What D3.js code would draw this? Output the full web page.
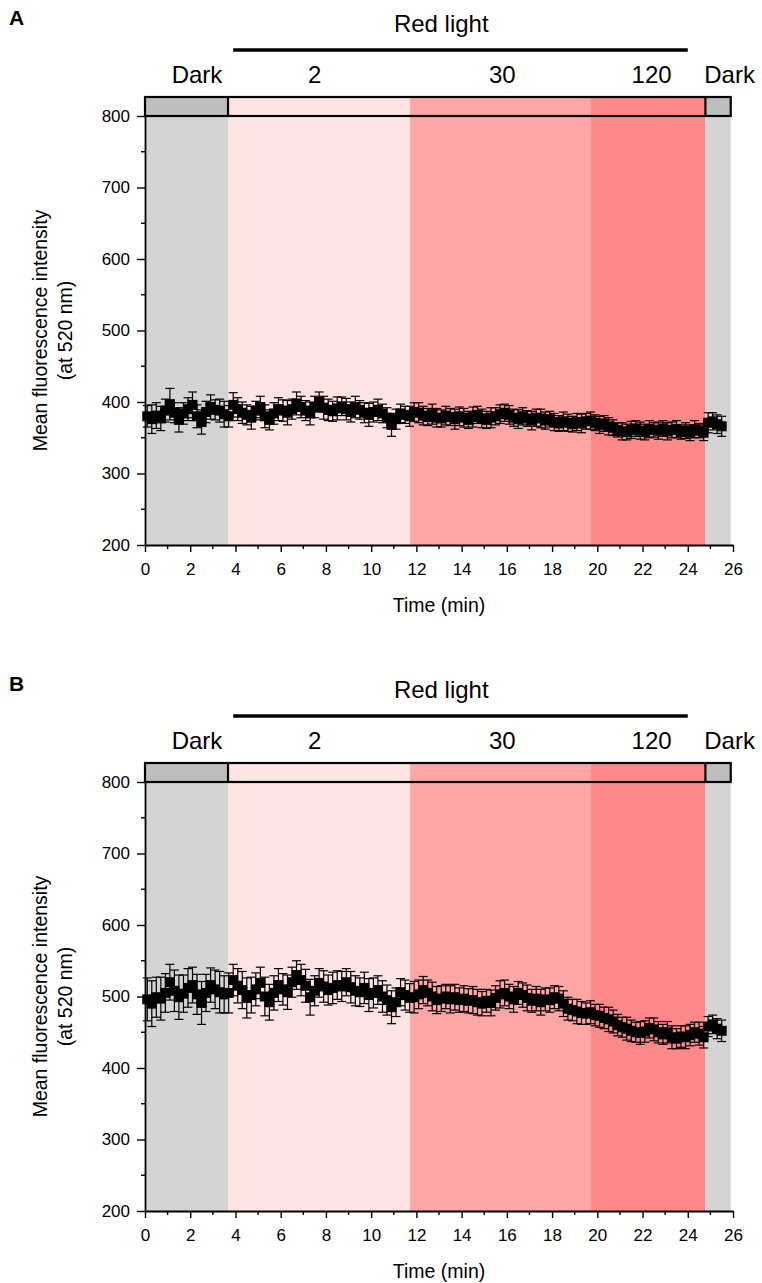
<!DOCTYPE html>
<html><head><meta charset="utf-8">
<script src="https://cdn.jsdelivr.net/npm/d3@7"></script>
<style>body{margin:0;background:#fff}svg{display:block}text{font-family:"Liberation Sans",Arial,sans-serif}</style>
</head><body><svg id="c" width="762" height="1283"></svg>
<script>
const times = [
0.1,0.3,0.5,0.7,0.9,1.1,1.3,1.5,1.7,1.9,
2.1,2.3,2.5,2.7,2.9,3.1,3.3,3.5,3.7,3.9,
4.1,4.3,4.5,4.7,4.9,5.1,5.3,5.5,5.7,5.9,
6.1,6.3,6.5,6.7,6.9,7.1,7.3,7.5,7.7,7.9,
8.1,8.3,8.5,8.7,8.9,9.1,9.3,9.5,9.7,9.9,
10.1,10.3,10.5,10.7,10.9,11.1,11.3,11.5,11.7,11.9,
12.1,12.3,12.5,12.7,12.9,13.1,13.3,13.5,13.7,13.9,
14.1,14.3,14.5,14.7,14.9,15.1,15.3,15.5,15.7,15.9,
16.1,16.3,16.5,16.7,16.9,17.1,17.3,17.5,17.7,17.9,
18.1,18.3,18.5,18.7,18.9,19.1,19.3,19.5,19.7,19.9,
20.1,20.3,20.5,20.7,20.9,21.1,21.3,21.5,21.7,21.9,
22.1,22.3,22.5,22.7,22.9,23.1,23.3,23.5,23.7,23.9,
24.1,24.3,24.5,24.7,24.9,25.1,25.3,25.5];

const meanA = [
380,376,381,377,388,397,385,375,384,390,
396,380,372,386,393,389,388,383,380,396,
390,385,382,378,388,393,380,375,384,390,
388,385,390,398,393,388,384,393,400,392,
389,387,391,394,390,386,393,389,385,382,
386,389,384,378,368,376,384,382,380,386,
385,381,379,383,378,377,381,379,376,380,
378,375,379,382,377,375,378,380,383,385,
382,378,376,380,377,374,378,377,374,376,
372,370,373,371,369,372,370,373,374,371,
368,370,366,364,361,359,358,361,363,360,
358,362,361,360,363,359,361,362,358,360,
357,362,360,357,371,373,369,366];
const errA = [
15,20,18,17,16,22,14,17,15,16,
18,16,17,15,17,14,16,18,15,17,
16,15,14,16,13,15,16,14,15,16,
15,17,14,16,15,14,16,15,14,16,
15,14,16,13,15,14,15,13,14,16,
14,15,13,14,16,14,13,12,14,13,
14,13,12,14,13,12,13,12,14,13,
13,12,14,12,13,12,14,12,13,12,
13,12,13,12,11,13,12,13,12,11,
12,11,13,12,11,12,13,11,12,11,
12,11,12,11,10,12,11,12,11,12,
11,12,10,12,11,12,11,12,10,11,
11,12,10,11,14,12,13,14];

const meanB = [
496,490,499,497,505,520,508,499,504,512,
516,503,491,505,516,510,506,503,505,523,
515,509,498,502,510,519,500,492,505,516,
510,506,520,530,523,515,499,508,519,514,
509,512,516,514,520,513,508,506,512,502,
505,509,500,495,485,492,506,502,498,499,
503,509,505,500,495,497,500,496,499,495,
497,494,495,492,490,494,491,498,503,505,
500,496,505,502,498,494,497,492,496,495,
499,497,490,483,481,479,477,476,478,474,
473,470,468,465,460,457,455,452,450,449,
451,456,454,450,447,450,443,441,444,443,
446,450,448,443,458,461,455,452];
const errB = [
30,32,28,30,27,25,29,31,26,27,
25,28,30,26,24,27,29,26,28,22,
24,26,28,25,23,22,27,25,24,23,
22,24,21,20,22,23,25,21,20,22,
21,22,20,21,19,22,21,20,22,23,
21,20,22,21,23,20,19,21,20,22,
20,19,18,20,19,18,17,19,18,17,
18,17,19,18,17,16,18,17,19,18,
17,18,16,17,18,16,17,18,16,17,
16,17,18,16,15,17,16,15,16,15,
16,15,17,16,15,14,16,15,14,16,
15,14,16,15,14,15,16,14,15,16,
15,14,16,15,14,13,14,15];

// light condition phases (min)
const phaseStart = [0, 3.67, 11.72, 19.69, 24.78];
const phaseEnd   = [3.67, 11.72, 19.69, 24.78, 25.9];
const phaseLabels = ["Dark", "2", "30", "120", "Dark"];
const phaseFill = ["#d4d4d4", "#ffe4e4", "#ffa6a6", "#ff8989", "#d4d4d4"];
const phaseBoxFill = ["#bebebe", "#ffe4e4", "#ffa6a6", "#ff8989", "#bebebe"];
const labelPosT = [2.3, 7.5, 15.8, 22.4, 25.85];
const redLightRange = [3.9, 24.0];

const yTicks = [200,300,400,500,600,700,800];
const yMinor = [250,350,450,550,650,750];
const xTicks = d3.range(0, 27, 2);
const xMinor = d3.range(1, 26, 2);

const svg = d3.select("#c");
const x = d3.scaleLinear().domain([0, 26]).range([145, 733]);

function panel(off, letter, mean, err) {
  const g = svg.append("g").attr("transform", `translate(0,${off})`);
  const y = d3.scaleLinear().domain([200, 800]).range([545, 116]);

  g.append("text").attr("x", 9).attr("y", 25).attr("font-size", 21).attr("font-weight", "bold").text(letter);
  g.append("text").attr("x", x(13.1)).attr("y", 32).attr("text-anchor", "middle").attr("font-size", 24).text("Red light");
  g.append("line").attr("x1", x(redLightRange[0])).attr("x2", x(redLightRange[1]))
    .attr("y1", 50).attr("y2", 50).attr("stroke", "#000").attr("stroke-width", 3.5);
  g.selectAll(".pl").data(phaseLabels).join("text")
    .attr("x", (d, i) => x(labelPosT[i])).attr("y", 83).attr("text-anchor", "middle")
    .attr("font-size", 24).text(d => d);

  // plot background bands
  g.selectAll(".band").data(phaseStart).join("rect")
    .attr("x", (d) => x(d)).attr("width", (d, i) => x(phaseEnd[i]) - x(d))
    .attr("y", y(800)).attr("height", y(200) - y(800))
    .attr("fill", (d, i) => phaseFill[i]);
  // top condition box
  const bt = 97, bh = y(800) - 97;
  g.selectAll(".box").data(phaseStart).join("rect")
    .attr("x", (d) => x(d)).attr("width", (d, i) => x(phaseEnd[i]) - x(d))
    .attr("y", bt).attr("height", bh)
    .attr("fill", (d, i) => phaseBoxFill[i]);
  g.append("rect").attr("x", x(0)).attr("y", bt).attr("width", x(25.9) - x(0)).attr("height", bh)
    .attr("fill", "none").attr("stroke", "#000").attr("stroke-width", 2.2);
  [phaseStart[1], phaseStart[4]].forEach(t => {
    g.append("line").attr("x1", x(t)).attr("x2", x(t)).attr("y1", bt).attr("y2", bt + bh)
      .attr("stroke", "#000").attr("stroke-width", 2.2);
  });

  // error bars
  const eb = g.append("g").attr("stroke", "#000").attr("stroke-width", 1.2);
  times.forEach((t, i) => {
    const cx = x(t), y1 = y(mean[i] + err[i]), y2 = y(mean[i] - err[i]);
    eb.append("line").attr("x1", cx).attr("x2", cx).attr("y1", y1).attr("y2", y2);
    eb.append("line").attr("x1", cx - 4.5).attr("x2", cx + 4.5).attr("y1", y1).attr("y2", y1);
    eb.append("line").attr("x1", cx - 4.5).attr("x2", cx + 4.5).attr("y1", y2).attr("y2", y2);
  });
  g.selectAll(".pt").data(times).join("rect")
    .attr("x", (d) => x(d) - 5).attr("y", (d, i) => y(mean[i]) - 5)
    .attr("width", 10).attr("height", 10).attr("fill", "#000");

  // axes
  const ya = g.append("g").attr("transform", `translate(${x(0)},0)`)
    .call(d3.axisLeft(y).tickValues(yTicks).tickSize(8).tickSizeOuter(0).tickPadding(7));
  ya.selectAll(".minor").data(yMinor).join("line").attr("class", "minor")
    .attr("x1", 0).attr("x2", -4).attr("y1", d => y(d)).attr("y2", d => y(d)).attr("stroke", "#000");
  const xa = g.append("g").attr("transform", `translate(0,${y(200)})`)
    .call(d3.axisBottom(x).tickValues(xTicks).tickSize(7).tickSizeOuter(0).tickPadding(11));
  xa.selectAll(".minor").data(xMinor).join("line").attr("class", "minor")
    .attr("y1", 0).attr("y2", 4).attr("x1", d => x(d)).attr("x2", d => x(d)).attr("stroke", "#000");
  [ya, xa].forEach(a => {
    a.select(".domain").attr("stroke-width", 1.8);
    a.selectAll("text").attr("font-size", 17).attr("fill", "#000")
      .attr("font-family", '"Liberation Sans",Arial,sans-serif');
    a.selectAll("line").attr("stroke-width", 1.4);
  });

  g.append("text").attr("transform", `translate(47,${(y(800)+y(200))/2}) rotate(-90)`)
    .attr("text-anchor", "middle").attr("font-size", 19.5).text("Mean fluorescence intensity");
  g.append("text").attr("transform", `translate(72,${(y(800)+y(200))/2}) rotate(-90)`)
    .attr("text-anchor", "middle").attr("font-size", 19.5).text("(at 520 nm)");
  g.append("text").attr("x", x(13)).attr("y", 612).attr("text-anchor", "middle")
    .attr("font-size", 19.5).text("Time (min)");
}

panel(0, "A", meanA, errA);
panel(666, "B", meanB, errB);
</script></body></html>
